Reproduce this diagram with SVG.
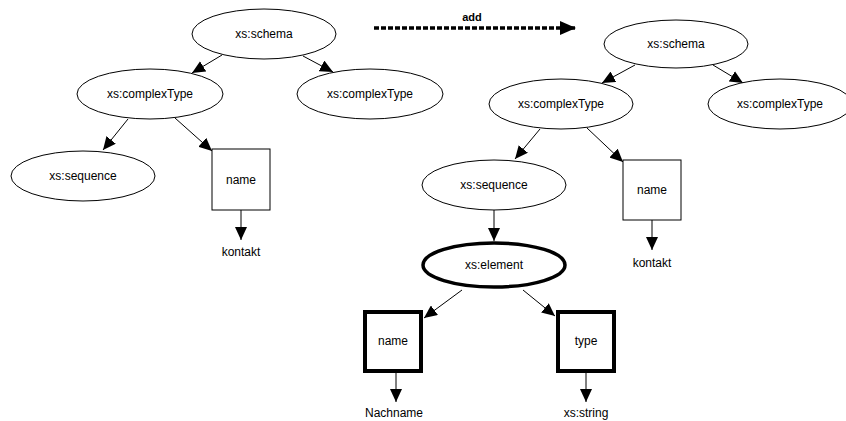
<svg xmlns="http://www.w3.org/2000/svg" width="846" height="421" viewBox="0 0 846 421">
  <defs>
    <marker id="arr" viewBox="0 0 13 12" refX="13" refY="6" markerWidth="13" markerHeight="12" markerUnits="userSpaceOnUse" orient="auto">
      <path d="M0,0 L13,6 L0,12 Z" fill="#000"/>
    </marker>
    <marker id="arrBig" viewBox="0 0 16 14" refX="16" refY="7" markerWidth="16" markerHeight="14" markerUnits="userSpaceOnUse" orient="auto">
      <path d="M0,0 L16,7 L0,14 Z" fill="#000"/>
    </marker>
  </defs>
  <style>
    text { font-family: "Liberation Sans", Arial, sans-serif; font-size: 12px; fill: #000; text-anchor: middle; }
    .node { fill: #fff; stroke: #000; stroke-width: 1; }
    .bold { fill: #fff; stroke: #000; stroke-width: 4; }
    .edge { stroke: #000; stroke-width: 1; fill: none; marker-end: url(#arr); }
  </style>

  <!-- transformation arrow -->
  <g id="add-arrow">
    <line x1="374" y1="28" x2="576" y2="28" stroke="#000" stroke-width="3.6" stroke-dasharray="5,2" marker-end="url(#arrBig)"/>
    <text x="472" y="21" style="font-weight:bold;font-size:11px">add</text>
  </g>

  <g id="edges">
    <!-- left tree -->
    <line class="edge" x1="222" y1="55" x2="192" y2="73"/>
    <line class="edge" x1="303" y1="56" x2="333" y2="72"/>
    <line class="edge" x1="128" y1="119" x2="103" y2="150"/>
    <line class="edge" x1="175" y1="118" x2="212" y2="151"/>
    <line class="edge" x1="241" y1="210" x2="241" y2="240"/>
    <!-- right tree -->
    <line class="edge" x1="635" y1="65" x2="602" y2="83"/>
    <line class="edge" x1="713" y1="65" x2="743" y2="83"/>
    <line class="edge" x1="540" y1="129" x2="515" y2="159"/>
    <line class="edge" x1="587" y1="128" x2="623" y2="162"/>
    <line class="edge" x1="652" y1="220" x2="652" y2="250"/>
    <line class="edge" x1="494" y1="210" x2="494" y2="241"/>
    <line class="edge" x1="462" y1="290" x2="424" y2="318"/>
    <line class="edge" x1="523" y1="290" x2="555" y2="316"/>
    <line class="edge" x1="396" y1="372" x2="396" y2="402"/>
    <line class="edge" x1="586" y1="372" x2="586" y2="402"/>
  </g>

  <!-- left tree nodes -->
  <g id="l-schema"><ellipse class="node" cx="264" cy="34" rx="72" ry="25"/><text x="264" y="38">xs:schema</text></g>
  <g id="l-complexType1"><ellipse class="node" cx="150" cy="94" rx="73" ry="25"/><text x="150" y="98">xs:complexType</text></g>
  <g id="l-complexType2"><ellipse class="node" cx="370" cy="94" rx="73" ry="25"/><text x="370" y="98">xs:complexType</text></g>
  <g id="l-sequence"><ellipse class="node" cx="83" cy="176" rx="72" ry="25"/><text x="83" y="180">xs:sequence</text></g>
  <g id="l-name"><rect class="node" x="212" y="149" width="58" height="61"/><text x="241" y="184">name</text></g>
  <g id="l-kontakt"><text x="241" y="256">kontakt</text></g>

  <!-- right tree nodes -->
  <g id="r-schema"><ellipse class="node" cx="676" cy="44" rx="72" ry="24"/><text x="676" y="48">xs:schema</text></g>
  <g id="r-complexType1"><ellipse class="node" cx="561" cy="104" rx="72" ry="25"/><text x="561" y="108">xs:complexType</text></g>
  <g id="r-complexType2"><ellipse class="node" cx="780" cy="104" rx="72" ry="25"/><text x="780" y="108">xs:complexType</text></g>
  <g id="r-sequence"><ellipse class="node" cx="494" cy="185" rx="72" ry="25"/><text x="494" y="189">xs:sequence</text></g>
  <g id="r-name"><rect class="node" x="623" y="160" width="58" height="60"/><text x="652" y="194">name</text></g>
  <g id="r-kontakt"><text x="652" y="267">kontakt</text></g>
  <g id="r-element"><ellipse cx="494" cy="265" rx="71" ry="22" fill="#fff" stroke="#000" stroke-width="3.5"/><text x="494" y="269">xs:element</text></g>
  <g id="r-attr-name"><rect class="bold" x="365" y="312" width="56" height="59"/><text x="393" y="345">name</text></g>
  <g id="r-attr-type"><rect class="bold" x="558" y="312" width="56" height="59"/><text x="586" y="345">type</text></g>
  <g id="r-nachname"><text x="394" y="417">Nachname</text></g>
  <g id="r-string"><text x="586" y="417">xs:string</text></g>
</svg>
